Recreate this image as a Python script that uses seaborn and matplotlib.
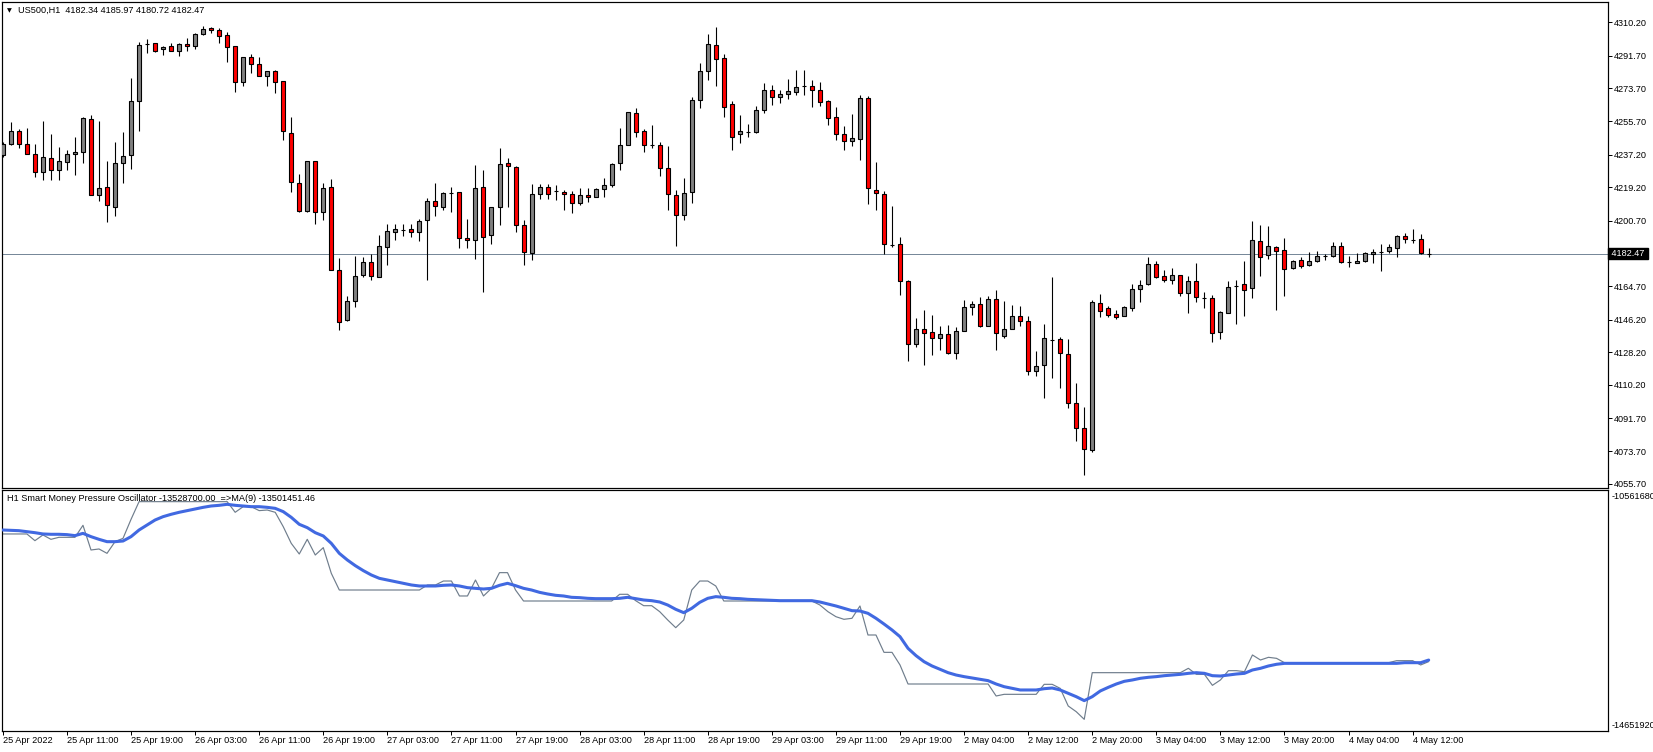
import numpy as np
import pandas as pd
import matplotlib
matplotlib.use("Agg")
import matplotlib.pyplot as plt
import matplotlib.transforms as mtransforms
import seaborn as sns

# --- chart data ---
symbol_title = "US500,H1  4182.34 4185.97 4180.72 4182.47"
osc_title = "H1 Smart Money Pressure Oscillator -13528700.00  =>MA(9) -13501451.46"
last_price = 4182.47

opens = [4237.1, 4243.0, 4250.3, 4243.0, 4237.5, 4227.9, 4235.3, 4229.0, 4232.9, 4237.5,
         4238.9, 4256.9, 4214.7, 4219.3, 4208.6, 4232.5, 4236.9, 4266.7, 4298.0, 4298.6,
         4295.3, 4297.0, 4294.6, 4298.3, 4297.0, 4303.8, 4306.9, 4305.8, 4303.2, 4297.0,
         4277.1, 4290.9, 4287.1, 4280.8, 4283.4, 4277.9, 4249.0, 4221.5, 4205.9, 4233.6,
         4205.5, 4219.3, 4173.5, 4145.8, 4156.3, 4170.6, 4177.9, 4169.5, 4186.2, 4194.5,
         4195.7, 4196.3, 4194.5, 4200.9, 4211.6, 4208.3, 4216.0, 4216.5, 4191.2, 4190.3,
         4219.3, 4193.0, 4208.3, 4232.5, 4230.3, 4198.2, 4182.9, 4215.4, 4219.3, 4217.0,
         4216.5, 4215.4, 4210.5, 4214.9, 4213.8, 4218.2, 4220.4, 4232.5, 4242.4, 4259.9,
         4250.1, 4242.8, 4242.4, 4229.8, 4214.9, 4203.7, 4216.5, 4267.6, 4283.4, 4297.7,
         4290.4, 4265.0, 4248.5, 4249.9, 4249.9, 4261.9, 4272.9, 4269.2, 4270.5, 4271.6,
         4274.8, 4274.8, 4272.6, 4266.9, 4257.8, 4248.5, 4244.5, 4245.7, 4268.3, 4217.6,
         4215.4, 4187.2, 4187.9, 4167.7, 4132.8, 4141.0, 4139.4, 4136.1, 4138.3, 4127.6,
         4139.9, 4153.2, 4154.8, 4142.5, 4157.6, 4137.4, 4141.0, 4148.2, 4145.4, 4117.7,
         4121.0, 4134.8, 4135.5, 4127.3, 4100.3, 4086.5, 4074.2, 4155.4, 4152.6, 4149.3,
         4148.0, 4152.4, 4163.1, 4165.8, 4176.8, 4170.0, 4168.0, 4170.8, 4160.9, 4167.5,
         4158.1, 4158.1, 4139.6, 4149.8, 4164.5, 4166.0, 4163.4, 4189.7, 4181.6, 4186.2,
         4184.7, 4174.5, 4179.2, 4176.1, 4178.7, 4181.1, 4181.1, 4186.9, 4177.8, 4177.2,
         4178.3, 4182.4, 4183.6, 4183.8, 4185.7, 4192.5, 4190.2, 4190.6, 4182.34]
highs = [4244.4, 4255.1, 4251.6, 4252.0, 4243.2, 4255.8, 4248.7, 4241.5, 4239.9, 4247.2,
         4258.2, 4259.1, 4255.8, 4233.8, 4244.3, 4249.8, 4279.5, 4299.4, 4300.8, 4298.6,
         4297.2, 4298.6, 4299.0, 4301.4, 4304.5, 4308.0, 4307.8, 4307.1, 4305.1, 4297.0,
         4290.9, 4292.8, 4290.9, 4283.4, 4283.9, 4277.9, 4258.0, 4226.6, 4233.6, 4233.6,
         4221.7, 4223.9, 4180.1, 4159.4, 4181.4, 4180.7, 4182.4, 4193.0, 4199.1, 4199.1,
         4199.1, 4199.1, 4201.7, 4213.4, 4221.7, 4216.5, 4219.3, 4216.5, 4201.7, 4231.6,
         4228.8, 4208.3, 4240.8, 4235.3, 4230.9, 4201.3, 4220.9, 4220.9, 4220.9, 4220.4,
         4217.5, 4216.9, 4218.7, 4218.7, 4218.7, 4224.2, 4232.5, 4252.0, 4260.6, 4262.8,
         4251.2, 4253.4, 4244.4, 4242.1, 4217.8, 4224.2, 4268.9, 4287.6, 4303.8, 4307.4,
         4292.8, 4266.9, 4259.1, 4254.0, 4264.1, 4276.8, 4275.7, 4272.9, 4279.0, 4283.9,
         4283.9, 4278.4, 4277.5, 4267.4, 4263.7, 4253.1, 4259.7, 4270.2, 4269.6, 4232.9,
         4216.9, 4209.0, 4191.9, 4168.2, 4147.1, 4151.7, 4148.9, 4142.9, 4143.4, 4142.3,
         4157.2, 4156.3, 4158.8, 4159.4, 4162.7, 4156.6, 4154.3, 4153.9, 4148.4, 4129.1,
         4144.0, 4169.9, 4136.6, 4135.7, 4111.3, 4098.0, 4157.0, 4160.5, 4153.7, 4151.5,
         4153.5, 4166.0, 4168.2, 4180.7, 4178.7, 4173.7, 4174.6, 4170.8, 4170.0, 4177.4,
         4161.2, 4160.0, 4151.1, 4167.3, 4168.2, 4178.3, 4200.7, 4198.5, 4198.0, 4187.0,
         4191.5, 4179.2, 4180.7, 4183.5, 4184.0, 4182.4, 4189.2, 4189.2, 4181.4, 4182.9,
         4183.6, 4185.3, 4188.0, 4187.9, 4193.0, 4194.2, 4196.2, 4193.7, 4185.97]
lows = [4235.8, 4242.6, 4240.6, 4237.5, 4225.0, 4223.0, 4223.3, 4223.3, 4228.8, 4226.1,
        4232.5, 4214.7, 4211.4, 4199.8, 4203.1, 4221.5, 4229.2, 4250.0, 4293.1, 4294.0,
        4292.4, 4294.2, 4291.6, 4294.6, 4295.7, 4303.2, 4304.1, 4299.0, 4288.5, 4272.0,
        4275.3, 4282.5, 4280.5, 4275.3, 4271.1, 4245.4, 4216.5, 4205.5, 4205.5, 4199.1,
        4201.3, 4173.4, 4140.7, 4145.3, 4153.0, 4169.5, 4167.8, 4169.5, 4176.5, 4190.3,
        4192.1, 4191.8, 4189.4, 4168.2, 4203.1, 4206.4, 4205.3, 4185.7, 4185.7, 4179.6,
        4161.2, 4188.0, 4198.5, 4208.3, 4194.3, 4176.5, 4179.2, 4212.7, 4212.9, 4212.0,
        4206.4, 4204.9, 4209.2, 4211.0, 4213.8, 4214.1, 4219.3, 4228.5, 4242.4, 4247.2,
        4238.4, 4240.8, 4225.2, 4206.4, 4186.6, 4201.3, 4210.8, 4263.2, 4278.4, 4274.8,
        4258.2, 4239.5, 4243.9, 4247.2, 4249.4, 4260.1, 4264.6, 4265.6, 4267.8, 4270.3,
        4270.1, 4263.4, 4264.1, 4253.6, 4245.4, 4239.9, 4242.2, 4234.3, 4210.1, 4206.8,
        4182.5, 4186.2, 4159.6, 4123.2, 4131.1, 4121.0, 4126.5, 4129.6, 4127.3, 4124.3,
        4139.9, 4148.9, 4142.0, 4142.5, 4129.3, 4135.9, 4141.0, 4142.5, 4115.5, 4114.9,
        4102.8, 4113.8, 4108.3, 4097.3, 4079.1, 4060.4, 4073.1, 4147.6, 4147.6, 4146.5,
        4148.0, 4150.8, 4155.7, 4165.1, 4168.9, 4167.1, 4166.0, 4159.0, 4149.8, 4155.7,
        4152.4, 4133.7, 4135.5, 4149.8, 4144.0, 4148.4, 4157.9, 4170.4, 4179.8, 4151.7,
        4159.0, 4174.1, 4174.5, 4176.0, 4177.8, 4179.2, 4180.5, 4177.2, 4175.0, 4177.2,
        4178.0, 4177.2, 4172.8, 4182.9, 4180.5, 4188.4, 4188.4, 4182.5, 4180.72]
closes = [4243.2, 4250.3, 4243.0, 4237.5, 4227.6, 4236.0, 4229.0, 4233.6, 4237.5, 4238.6,
          4257.5, 4214.7, 4218.7, 4209.2, 4232.5, 4236.6, 4266.9, 4297.5, 4298.0, 4294.6,
          4296.4, 4294.6, 4298.3, 4297.0, 4303.8, 4306.3, 4305.8, 4302.9, 4296.4, 4277.1,
          4290.9, 4287.1, 4280.5, 4283.4, 4277.1, 4250.1, 4222.0, 4205.9, 4233.6, 4205.5,
          4218.7, 4173.4, 4144.7, 4156.5, 4170.2, 4177.9, 4170.0, 4186.9, 4195.2, 4196.3,
          4195.7, 4194.5, 4200.7, 4211.6, 4208.8, 4216.0, 4216.0, 4191.2, 4190.3, 4218.7,
          4191.8, 4208.3, 4232.0, 4230.7, 4198.2, 4183.3, 4215.4, 4219.3, 4215.4, 4217.0,
          4215.4, 4210.5, 4214.9, 4213.8, 4218.2, 4220.4, 4232.0, 4242.4, 4260.6, 4249.8,
          4242.4, 4242.8, 4229.8, 4215.4, 4203.7, 4216.0, 4267.4, 4283.4, 4298.3, 4289.8,
          4263.4, 4246.8, 4250.3, 4249.9, 4261.9, 4272.9, 4269.2, 4270.5, 4272.4, 4274.4,
          4274.8, 4272.6, 4266.5, 4257.3, 4248.5, 4244.5, 4246.3, 4268.3, 4218.7, 4215.8,
          4187.9, 4187.2, 4167.3, 4132.8, 4141.0, 4138.8, 4136.1, 4138.3, 4127.6, 4139.9,
          4153.2, 4154.8, 4142.5, 4157.6, 4138.6, 4141.0, 4148.2, 4145.3, 4117.7, 4120.6,
          4136.1, 4134.8, 4127.6, 4100.1, 4086.3, 4074.9, 4156.1, 4150.8, 4148.6, 4147.5,
          4153.2, 4163.1, 4165.5, 4176.8, 4169.5, 4168.0, 4170.8, 4160.9, 4167.5, 4158.5,
          4158.1, 4138.6, 4150.6, 4164.2, 4164.5, 4162.7, 4190.3, 4180.5, 4187.0, 4184.2,
          4174.1, 4178.7, 4175.9, 4178.7, 4181.4, 4181.1, 4186.9, 4177.8, 4177.8, 4178.3,
          4182.9, 4183.6, 4183.6, 4186.2, 4192.1, 4190.6, 4190.2, 4182.7, 4182.47]

# oscillator values, in millions
osc_raw = [-11.242, -11.242, -11.242, -11.242, -11.362, -11.260, -11.338, -11.302, -11.302, -11.302,
           -11.087, -11.529, -11.511, -11.589, -11.380, -11.320, -10.980, -10.663, -10.663, -10.663,
           -10.663, -10.663, -10.663, -10.663, -10.663, -10.663, -10.663, -10.663, -10.663, -10.854,
           -10.753, -10.753, -10.824, -10.813, -10.854, -11.111, -11.410, -11.601, -11.338, -11.619,
           -11.487, -11.947, -12.246, -12.246, -12.246, -12.246, -12.246, -12.246, -12.246, -12.246,
           -12.246, -12.246, -12.246, -12.156, -12.156, -12.085, -12.085, -12.353, -12.353, -12.067,
           -12.353, -12.216, -11.935, -11.935, -12.246, -12.443, -12.443, -12.443, -12.443, -12.443,
           -12.443, -12.443, -12.443, -12.443, -12.443, -12.443, -12.443, -12.323, -12.323, -12.437,
           -12.527, -12.527, -12.634, -12.783, -12.921, -12.783, -12.246, -12.085, -12.085, -12.174,
           -12.443, -12.443, -12.443, -12.443, -12.443, -12.443, -12.443, -12.443, -12.443, -12.443,
           -12.443, -12.443, -12.515, -12.634, -12.724, -12.771, -12.753, -12.532, -13.052, -13.052,
           -13.363, -13.363, -13.589, -13.930, -13.930, -13.930, -13.930, -13.930, -13.930, -13.930,
           -13.930, -13.930, -13.930, -13.930, -14.145, -14.115, -14.115, -14.115, -14.115, -14.115,
           -13.936, -13.936, -14.008, -14.324, -14.426, -14.563, -13.727, -13.727, -13.727, -13.727,
           -13.727, -13.727, -13.727, -13.727, -13.727, -13.727, -13.727, -13.727, -13.649, -13.757,
           -13.757, -13.954, -13.858, -13.691, -13.691, -13.709, -13.410, -13.500, -13.452, -13.470,
           -13.548, -13.548, -13.548, -13.548, -13.548, -13.548, -13.548, -13.548, -13.548, -13.548,
           -13.548, -13.548, -13.548, -13.548, -13.512, -13.512, -13.512, -13.589, -13.529]
osc_ma = [-11.171, -11.177, -11.183, -11.201, -11.219, -11.242, -11.248, -11.248, -11.254, -11.272,
          -11.231, -11.290, -11.338, -11.380, -11.380, -11.368, -11.290, -11.171, -11.081, -10.992,
          -10.932, -10.890, -10.854, -10.824, -10.795, -10.765, -10.741, -10.729, -10.711, -10.729,
          -10.741, -10.753, -10.753, -10.765, -10.783, -10.842, -10.944, -11.069, -11.129, -11.219,
          -11.278, -11.410, -11.589, -11.708, -11.810, -11.899, -11.977, -12.037, -12.067, -12.096,
          -12.126, -12.156, -12.174, -12.174, -12.174, -12.162, -12.156, -12.174, -12.204, -12.216,
          -12.228, -12.216, -12.162, -12.126, -12.168, -12.216, -12.246, -12.288, -12.317, -12.341,
          -12.353, -12.377, -12.383, -12.395, -12.401, -12.401, -12.401, -12.395, -12.377, -12.401,
          -12.425, -12.437, -12.461, -12.515, -12.592, -12.652, -12.574, -12.467, -12.395, -12.365,
          -12.377, -12.395, -12.401, -12.413, -12.419, -12.425, -12.431, -12.437, -12.437, -12.437,
          -12.437, -12.437, -12.461, -12.497, -12.532, -12.574, -12.616, -12.622, -12.664, -12.753,
          -12.855, -12.962, -13.082, -13.291, -13.422, -13.530, -13.607, -13.667, -13.727, -13.769,
          -13.798, -13.822, -13.846, -13.870, -13.930, -13.978, -14.008, -14.037, -14.037, -14.037,
          -14.014, -14.002, -14.037, -14.097, -14.157, -14.228, -14.157, -14.055, -13.990, -13.930,
          -13.882, -13.858, -13.828, -13.810, -13.798, -13.781, -13.769, -13.757, -13.739, -13.727,
          -13.739, -13.781, -13.787, -13.769, -13.751, -13.739, -13.679, -13.649, -13.607, -13.577,
          -13.560, -13.560, -13.560, -13.560, -13.560, -13.560, -13.560, -13.560, -13.560, -13.560,
          -13.560, -13.560, -13.560, -13.560, -13.560, -13.548, -13.548, -13.548, -13.501]

date_labels = ["25 Apr 2022", "25 Apr 11:00", "25 Apr 19:00", "26 Apr 03:00", "26 Apr 11:00",
               "26 Apr 19:00", "27 Apr 03:00", "27 Apr 11:00", "27 Apr 19:00", "28 Apr 03:00",
               "28 Apr 11:00", "28 Apr 19:00", "29 Apr 03:00", "29 Apr 11:00", "29 Apr 19:00",
               "2 May 04:00", "2 May 12:00", "2 May 20:00", "3 May 04:00", "3 May 12:00",
               "3 May 20:00", "4 May 04:00", "4 May 12:00"]
price_ticks = [4310.2, 4291.7, 4273.7, 4255.7, 4237.2, 4219.2, 4200.7,
               4164.7, 4146.2, 4128.2, 4110.2, 4091.7, 4073.7, 4055.7]
osc_ticks = [-10.56168, -14.65192]
osc_tick_labels = ["-10561680", "-14651920"]

# --- style ---
sns.set_style("white")
plt.rcParams["font.family"] = ["Liberation Sans", "DejaVu Sans"]
FS = 6.6
PX = 0.72  # one pixel in points at dpi 100

W, H = 1653, 752
fig = plt.figure(figsize=(W / 100, H / 100), dpi=100)
ax1 = fig.add_axes([2 / W, 1 - 487.7 / H, 1605.7 / W, 485.7 / H])
ax2 = fig.add_axes([2 / W, 1 - 731 / H, 1605.7 / W, 241.3 / H])

# candles
df = pd.DataFrame({"o": opens, "h": highs, "l": lows, "c": closes})
df["bar"] = np.arange(len(df))
body_col = np.where(df["c"] >= df["o"], "#808080", "#ff0000")
ax1.axhline(last_price, color="#778899", lw=PX, zorder=1)
ax1.vlines(df["bar"], df["l"], df["h"], color="black", lw=PX * 1.1, zorder=2)
ax1.bar(df["bar"], df["c"] - df["o"], bottom=df["o"], width=0.5, color=body_col,
        edgecolor="black", linewidth=PX * 1.1, zorder=3)

# oscillator
osc = pd.DataFrame({"bar": np.arange(len(osc_raw)), "raw": osc_raw, "ma": osc_ma})
sns.lineplot(data=osc, x="bar", y="raw", ax=ax2, color="#6f7d8c", lw=0.85, zorder=2)
sns.lineplot(data=osc, x="bar", y="ma", ax=ax2, color="#4169e1", lw=2.2, zorder=3)

# axes
for ax in (ax1, ax2):
    ax.set_xlim(-0.11, 200.35)
    ax.set_xlabel("")
    ax.set_ylabel("")
    ax.grid(False)
    for s in ax.spines.values():
        s.set_color("black")
        s.set_linewidth(PX * 1.2)
    ax.yaxis.tick_right()

ax1.set_ylim(4053.5, 4321.4)
ax1.set_yticks(price_ticks)
ax1.set_yticklabels([f"{p:.2f}" for p in price_ticks])
ax1.tick_params(axis="y", direction="out", length=3, width=PX, pad=1.5,
                labelsize=FS, colors="black", right=True, left=False)
ax1.set_xticks([])

ax2.set_ylim(-14.772, -10.449)
ax2.set_yticks(osc_ticks)
ax2.set_yticklabels(osc_tick_labels)
ax2.tick_params(axis="y", length=0, pad=2.5, labelsize=FS, colors="black")
ax2.set_xticks(np.arange(len(date_labels)) * 8)
ax2.set_xticklabels(date_labels, ha="left")
ax2.tick_params(axis="x", direction="out", length=3, width=PX, pad=0.5,
                labelsize=FS, colors="black", bottom=True)

# current price tag
tr = mtransforms.blended_transform_factory(ax1.transAxes, ax1.transData)
ax1.text(1.0 + 1.5 / 1605.7, last_price, f" {last_price:.2f} ", transform=tr, ha="left",
         va="center", fontsize=FS, color="white", zorder=5, clip_on=False,
         bbox=dict(boxstyle="square,pad=0.1", fc="black", ec="black"))

# titles
fig.text(7 / W, 1 - 10.7 / H, "\u25bc", fontsize=4.5, va="center", ha="left",
         family="DejaVu Sans", color="black")
fig.text(18 / W, 1 - 10.7 / H, symbol_title, fontsize=FS, va="center", ha="left", color="black")
fig.text(7 / W, 1 - 498.3 / H, osc_title, fontsize=FS, va="center", ha="left",
         color="black", zorder=10)

fig.savefig("out.png", dpi=100, facecolor="white")
